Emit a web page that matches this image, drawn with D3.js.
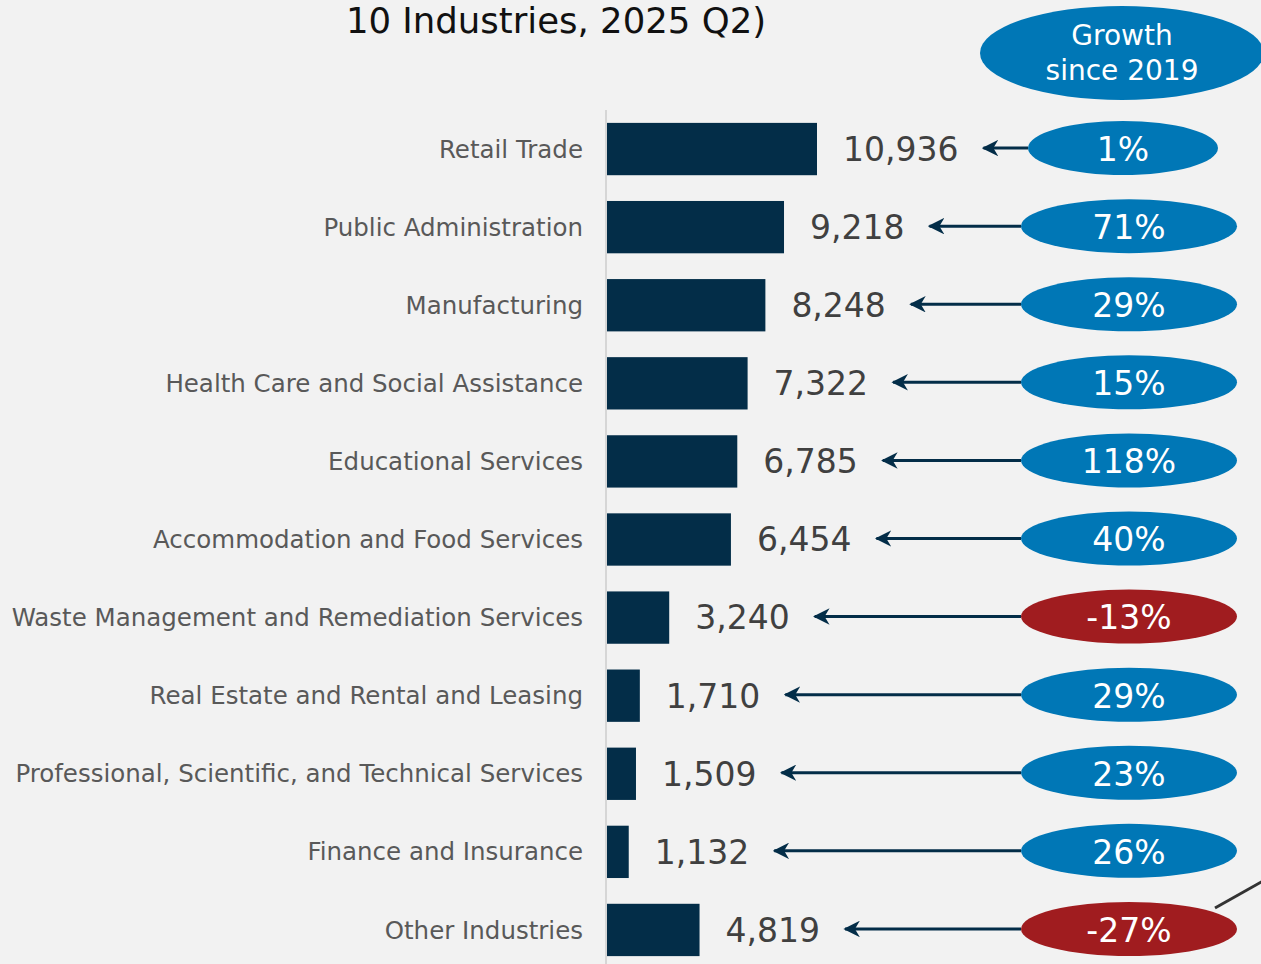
<!DOCTYPE html>
<html>
<head>
<meta charset="utf-8">
<script src="https://cdn.jsdelivr.net/npm/d3@7"></script>
<style>
  html, body { margin: 0; padding: 0; background: #f2f2f2; }
  svg { display: block; }
</style>
</head>
<body>
<svg id="chart" width="1261" height="964"></svg>
<script>
// chart values
var industries = ["Retail Trade", "Public Administration", "Manufacturing",
  "Health Care and Social Assistance", "Educational Services",
  "Accommodation and Food Services", "Waste Management and Remediation Services",
  "Real Estate and Rental and Leasing", "Professional, Scientific, and Technical Services",
  "Finance and Insurance", "Other Industries"];
var jobs = [10936, 9218, 8248, 7322, 6785, 6454, 3240, 1710, 1509, 1132, 4819];
var growth = [1, 71, 29, 15, 118, 40, -13, 29, 23, 26, -27];

var titleLine = "10 Industries, 2025 Q2)";
var headerLines = ["Growth", "since 2019"];

var FONT = "DejaVu Sans";
var NAVY = "#032d48", BLUE = "#0077b6", RED = "#a01c1f";

var svg = d3.select("#chart");

var x = d3.scaleLinear().domain([0, d3.max(jobs)]).range([607, 817]);
var y = d3.scaleBand().domain(industries).range([110, 969])
  .paddingInner(0.33).paddingOuter(0.165);

// title (only the last line is in view)
svg.append("text")
  .attr("x", 556).attr("y", 33)
  .attr("text-anchor", "middle")
  .style("font-family", FONT).style("font-size", "35.5px")
  .attr("fill", "#111")
  .text(titleLine);

// header bubble
svg.append("ellipse")
  .attr("cx", 1122).attr("cy", 53).attr("rx", 142).attr("ry", 47)
  .attr("fill", BLUE);
svg.selectAll("text.head").data(headerLines).enter()
  .append("text")
  .attr("class", "head")
  .attr("x", 1122).attr("y", (d, i) => 45 + i * 35)
  .attr("text-anchor", "middle")
  .style("font-family", FONT).style("font-size", "28px")
  .attr("fill", "#fff")
  .text(d => d);

// axis line
svg.append("line")
  .attr("x1", 606).attr("x2", 606).attr("y1", 110).attr("y2", 964)
  .attr("stroke", "#d6d6d6").attr("stroke-width", 2);

var rows = industries.map((d, i) => ({name: d, v: jobs[i], g: growth[i], i: i}));

// category labels
svg.selectAll("text.cat").data(rows).enter()
  .append("text")
  .attr("class", "cat")
  .attr("x", 583)
  .attr("y", d => y(d.name) + y.bandwidth() / 2)
  .attr("dy", "0.35em")
  .attr("text-anchor", "end")
  .style("font-family", FONT).style("font-size", "24.5px")
  .attr("fill", "#595959")
  .text(d => d.name);

// bars
svg.selectAll("rect.bar").data(rows).enter()
  .append("rect")
  .attr("class", "bar")
  .attr("x", x(0))
  .attr("y", d => y(d.name))
  .attr("width", d => x(d.v) - x(0))
  .attr("height", y.bandwidth())
  .attr("fill", NAVY);

// value labels
var vals = svg.selectAll("text.val").data(rows).enter()
  .append("text")
  .attr("class", "val")
  .attr("x", d => x(d.v) + 26)
  .attr("y", d => y(d.name) + y.bandwidth() / 2)
  .attr("dy", "0.36em")
  .style("font-family", FONT).style("font-size", "33px")
  .attr("fill", "#404040")
  .text(d => d3.format(",")(d.v));

// arrows from the bubbles back to the values
svg.append("defs").append("marker")
  .attr("id", "head")
  .attr("viewBox", "0 0 10 10")
  .attr("refX", 9).attr("refY", 5)
  .attr("markerWidth", 5.5).attr("markerHeight", 5.5)
  .attr("markerUnits", "strokeWidth")
  .attr("orient", "auto")
  .append("path").attr("d", "M0,0 L10,5 L0,10 L3,5 Z").attr("fill", NAVY);

// bubble geometry: the top one is a little narrower in the original
var bx = d => d.i === 0 ? 1123 : 1129;
var brx = d => d.i === 0 ? 95 : 108;
var RY = 27;

vals.each(function(d) {
  var tip = x(d.v) + 26 + this.getComputedTextLength() + 25;
  var cy = y(d.name) + y.bandwidth() / 2 - 1;
  svg.append("line")
    .attr("x1", bx(d) - brx(d)).attr("y1", cy)
    .attr("x2", tip).attr("y2", cy)
    .attr("stroke", NAVY).attr("stroke-width", 3)
    .attr("marker-end", "url(#head)");
});

// connector line at the bottom right
svg.append("line")
  .attr("x1", 1215).attr("y1", 908).attr("x2", 1263).attr("y2", 881)
  .attr("stroke", "#333").attr("stroke-width", 3);

// growth bubbles
svg.selectAll("ellipse.g").data(rows).enter()
  .append("ellipse")
  .attr("class", "g")
  .attr("cx", bx).attr("cy", d => y(d.name) + y.bandwidth() / 2 - 1)
  .attr("rx", brx).attr("ry", RY)
  .attr("fill", d => d.g < 0 ? RED : BLUE);

svg.selectAll("text.pct").data(rows).enter()
  .append("text")
  .attr("class", "pct")
  .attr("x", bx)
  .attr("y", d => y(d.name) + y.bandwidth() / 2)
  .attr("dy", "0.36em")
  .attr("text-anchor", "middle")
  .style("font-family", FONT).style("font-size", "33px")
  .attr("fill", "#fff")
  .text(d => d.g + "%");
</script>
</body>
</html>
